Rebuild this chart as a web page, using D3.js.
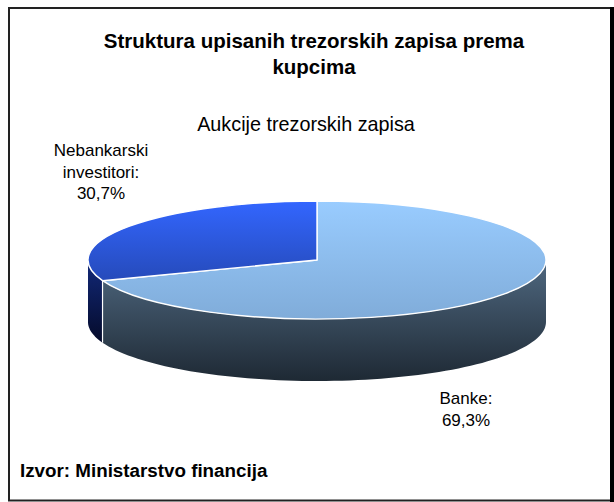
<!DOCTYPE html>
<html><head><meta charset="utf-8">
<script src="https://cdn.jsdelivr.net/npm/d3@7"></script>
<style>html,body{margin:0;padding:0;background:#fff}svg{display:block}text{font-family:"Liberation Sans",Arial,sans-serif;fill:#000}</style>
</head><body><svg id="c" width="614" height="502"></svg>
<script>
const categories = ["Banke", "Nebankarski investitori"];
const shares = [69.3, 30.7];
const shareLabels = ["69,3%", "30,7%"];
const titleLines = ["Struktura upisanih trezorskih zapisa prema", "kupcima"];
const subtitle = "Aukcije trezorskih zapisa";
const source = "Izvor: Ministarstvo financija";
const topColors = [["#99ccff","#80acd9"],["#3366ff","#1f3d99"]];
const sideColors = [["#4f6880","#1e2934"],["#12297a","#050b2a"]];

const W=614,H=502,cx=317,cy=260,rx=229,ry=59,depth=62;
const svg=d3.select("#c");
const defs=svg.append("defs");
function grad(id,cols,y1,y2){
  const g=defs.append("linearGradient").attr("id",id).attr("gradientUnits","userSpaceOnUse")
    .attr("x1",0).attr("x2",0).attr("y1",y1).attr("y2",y2);
  g.append("stop").attr("offset",0).attr("stop-color",cols[0]);
  g.append("stop").attr("offset",1).attr("stop-color",cols[1]);
}
svg.append("rect").attr("x",9).attr("y",8).attr("width",602).attr("height",492.5)
  .attr("fill","#fff").attr("stroke","#222").attr("stroke-width",2);
svg.append("rect").attr("x",610).attr("y",7).attr("width",4).attr("height",495).attr("fill","#000");

const arcs=d3.pie().sort(null)(shares);
const px=a=>cx+rx*Math.sin(a), py=a=>cy-ry*Math.cos(a);

// side walls: front-facing part of each slice (angles between 90 and 270 degrees)
const sideArea=d3.area().x(a=>px(a)).y0(a=>py(a)).y1(a=>py(a)+depth);
arcs.forEach((d,i)=>{
  const a0=Math.max(d.startAngle,Math.PI/2), a1=Math.min(d.endAngle,3*Math.PI/2);
  if(a1<=a0) return;
  const n=80, as=d3.range(n+1).map(k=>a0+(a1-a0)*k/n);
  grad("side"+i,sideColors[i],d3.min(as,py),d3.max(as,py)+depth);
  svg.append("path").attr("d",sideArea(as)).attr("fill","url(#side"+i+")");
});
// white seam between the two walls
const seam=arcs[0].endAngle;
svg.append("line").attr("x1",px(seam)).attr("x2",px(seam)).attr("y1",py(seam)).attr("y2",py(seam)+depth)
  .attr("stroke","#fff").attr("stroke-width",1.2);

// top faces
const arcGen=d3.arc().innerRadius(0).outerRadius(rx);
const topG=svg.append("g").attr("transform",`translate(${cx},${cy}) scale(1,${ry/rx})`);
arcs.forEach((d,i)=>{
  defs.append("linearGradient").attr("id","top"+i).attr("gradientUnits","userSpaceOnUse")
    .attr("x1",0).attr("x2",0).attr("y1",-rx).attr("y2",rx)
    .call(g=>{g.append("stop").attr("offset",0).attr("stop-color",topColors[i][0]);
              g.append("stop").attr("offset",1).attr("stop-color",topColors[i][1]);});
  topG.append("path").attr("d",arcGen(d)).attr("fill","url(#top"+i+")")
    .attr("stroke","#fff").attr("stroke-width",1.4).attr("vector-effect","non-scaling-stroke")
    .attr("stroke-linejoin","round");
});

function txt(x,y,s,size,weight,anchor){
  svg.append("text").attr("x",x).attr("y",y).attr("text-anchor",anchor||"middle")
    .attr("font-size",size).attr("font-weight",weight||"normal").text(s);
}
titleLines.forEach((s,i)=>txt(314,i?74:48,s,20.5,"bold"));
txt(306,131,subtitle,19.8);
const lab=[[["Banke:",shareLabels[0]],466,404],[["Nebankarski","investitori:",shareLabels[1]],101,156]];
lab.forEach(([ls,x,y])=>ls.forEach((s,i)=>{
  txt(x,y+i*21.5,s,17);
}));
txt(20,477,source,18.8,"bold","start");
</script></body></html>
